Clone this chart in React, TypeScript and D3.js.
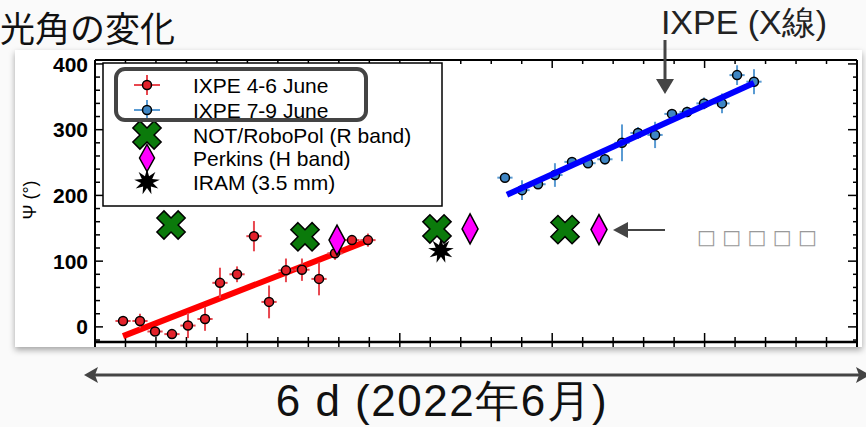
import React from 'react';
import * as d3 from 'd3';

// IXPE 4-6 June (time in days from axis start, angle in deg, 1-sigma error in deg)
const redT = [0.184, 0.295, 0.394, 0.505, 0.61, 0.722, 0.82, 0.932, 1.043, 1.142, 1.253, 1.358, 1.47, 1.575, 1.686, 1.791];
const redPsi = [9, 9, -7, -11, 2, 12, 67, 80, 138, 38, 86, 87, 73, 112, 132, 132];
const redErr = [5, 11, 6, 6, 19, 18, 23, 12, 23, 25, 18, 17, 25, 10, 5, 10];

// IXPE 7-9 June
const blueT = [2.69, 2.802, 2.907, 3.018, 3.13, 3.235, 3.346, 3.458, 3.563, 3.675, 3.786, 3.885, 3.996, 4.114, 4.213, 4.324];
const bluePsi = [227, 208, 217, 231, 251, 249, 255, 280, 295, 292, 324, 327, 340, 340, 383, 373];
const blueErr = [3, 15, 5, 18, 6, 6, 8, 28, 9, 20, 6, 8, 9, 15, 15, 19];

const timeErr = 0.05;

// linear fits
const redFitT = [0.184, 1.791];
const redFitPsi = [-14, 131];
const blueFitT = [2.703, 4.324];
const blueFitPsi = [201, 371];

// optical / radio
const notT = [0.499, 1.378, 2.244, 3.084];
const notPsi = [155, 137, 149, 148];
const perkinsT = [1.588, 2.461, 3.307];
const perkinsPsi = [132, 149, 148];
const iramT = [2.27];
const iramPsi = [116];

const yTicks = [0, 100, 200, 300, 400];
const legendLabels = ['IXPE 4-6 June', 'IXPE 7-9 June', 'NOT/RoboPol (R band)', 'Perkins (H band)', 'IRAM (3.5 mm)'];

const W = 866, H = 427;
const left = 95, right = 857, top = 60, bottom = 342;

const x = d3.scaleLinear().domain([0, 5]).range([left, right]);
const y = d3.scaleLinear().domain([-23, 406]).range([bottom, top]);

const crossPath = d3.symbol(d3.symbolCross, 500)()!;
const diamond = (w: number, h: number) => `M0,${-h}L${w},0L0,${h}L${-w},0Z`;
const starPath = (() => {
  const pts: [number, number][] = [];
  const n = 9;
  for (let i = 0; i < n * 2; i++) {
    const r = i % 2 === 0 ? 13 : 6;
    const a = (Math.PI * i) / n - Math.PI / 2;
    pts.push([r * Math.cos(a), r * Math.sin(a)]);
  }
  return d3.line()(pts) + 'Z';
})();

const redFill = '#e3222b', redBar = '#e8474f';
const blueFill = '#3f86c4', blueBar = '#5a9bd3';
const green = '#0b7a0b', magenta = '#ff00ff';

function ErrPoint({ t, v, e, fill, bar }: any) {
  const cx = x(t), cy = y(v);
  return (
    <g>
      <line x1={x(t - timeErr)} x2={x(t + timeErr)} y1={cy} y2={cy} stroke={bar} strokeWidth={2} />
      <line x1={cx} x2={cx} y1={y(v - e)} y2={y(v + e)} stroke={bar} strokeWidth={2} />
      <circle cx={cx} cy={cy} r={4.5} fill={fill} stroke="#000" strokeWidth={1.5} />
    </g>
  );
}

export default function App() {
  const minorX = d3.range(0, 26).map((i) => i / 5);
  const minorY = d3.range(-20, 407, 20);
  const fitLine = d3.line<number>();

  const legendRows = [85, 110, 135, 158, 182];
  const lx = 147;

  return (
    <svg width={W} height={H} style={{ position: 'absolute', left: 0, top: 0, background: '#fafafa' }}>
      <defs>
        <filter id="shadow" x="-5%" y="-5%" width="110%" height="120%">
          <feDropShadow dx="0" dy="3" stdDeviation="3" floodColor="#000" floodOpacity="0.35" />
        </filter>
        <clipPath id="panel">
          <rect x={15} y={50} width={847} height={297} />
        </clipPath>
      </defs>

      {/* title */}
      <text x={0} y={42} fontFamily="Noto Sans CJK JP" fontSize={35} fill="#111">光角の変化</text>
      <text x={744} y={34} textAnchor="middle" fontFamily="Liberation Sans" fontSize={34} fill="#222">IXPE (X線)</text>

      {/* plot panel */}
      <rect x={15} y={50} width={847} height={297} fill="#fff" filter="url(#shadow)" />

      <g clipPath="url(#panel)">
        {/* frame */}
        <line x1={left} x2={right} y1={top} y2={top} stroke="#000" strokeWidth={2} />
        <line x1={left} x2={left} y1={top} y2={bottom + 10} stroke="#000" strokeWidth={2} />
        <line x1={right} x2={right} y1={top} y2={bottom + 10} stroke="#000" strokeWidth={2} />
        <line x1={left} x2={right} y1={bottom} y2={bottom} stroke="#000" strokeWidth={2.5} />

        {minorX.map((t, i) => {
          const major = i % 5 === 0;
          return (
            <g key={'xt' + i}>
              <line x1={x(t)} x2={x(t)} y1={top} y2={top + (major ? 8 : 4)} stroke="#000" strokeWidth={1.5} />
              <line x1={x(t)} x2={x(t)} y1={bottom - (major ? 9 : 5)} y2={bottom + 5} stroke="#000" strokeWidth={1.5} />
            </g>
          );
        })}
        {minorY.map((v) => {
          const major = v % 100 === 0;
          return (
            <g key={'yt' + v}>
              <line x1={left} x2={left + (major ? 8 : 5)} y1={y(v)} y2={y(v)} stroke="#000" strokeWidth={1.5} />
              <line x1={right} x2={right - (major ? 9 : 4)} y1={y(v)} y2={y(v)} stroke="#000" strokeWidth={1.5} />
            </g>
          );
        })}
        {yTicks.map((v) => (
          <text key={'yl' + v} x={88} y={y(v)} dy="0.36em" textAnchor="end" fontFamily="Liberation Sans" fontWeight="bold" fontSize={21} fill="#000">{v}</text>
        ))}
        <text transform="translate(36,200) rotate(-90)" textAnchor="middle" fontFamily="Liberation Sans" fontSize={18} fill="#000">Ψ (°)</text>

        {/* legend */}
        <rect x={103} y={63} width={339} height={143} fill="#fff" stroke="#000" strokeWidth={1.5} />
        <line x1={lx - 13} x2={lx + 13} y1={legendRows[0]} y2={legendRows[0]} stroke={redBar} strokeWidth={2} />
        <line x1={lx} x2={lx} y1={legendRows[0] - 10} y2={legendRows[0] + 10} stroke={redBar} strokeWidth={2} />
        <circle cx={lx} cy={legendRows[0]} r={4.5} fill={redFill} stroke="#000" strokeWidth={1.5} />
        <line x1={lx - 13} x2={lx + 13} y1={legendRows[1]} y2={legendRows[1]} stroke={blueBar} strokeWidth={2} />
        <line x1={lx} x2={lx} y1={legendRows[1] - 10} y2={legendRows[1] + 10} stroke={blueBar} strokeWidth={2} />
        <circle cx={lx} cy={legendRows[1]} r={4.5} fill={blueFill} stroke="#000" strokeWidth={1.5} />
        <path d={crossPath} transform={`translate(${lx},${legendRows[2]}) rotate(45)`} fill={green} stroke="#000" strokeWidth={1.5} />
        <path d={diamond(7.5, 13.5)} transform={`translate(${lx},${legendRows[3]})`} fill={magenta} stroke="#000" strokeWidth={1.5} />
        <path d={starPath} transform={`translate(${lx},${legendRows[4]})`} fill="#000" />
        {legendLabels.map((s, i) => (
          <text key={s} x={193} y={legendRows[i]} dy="0.36em" fontFamily="Liberation Sans" fontSize={21} fill="#000">{s}</text>
        ))}
        <rect x={116} y={69} width={250} height={51} rx={9} fill="none" stroke="#444" strokeWidth={4} />

        {/* fits */}
        <path d={fitLine(redFitT.map((t, i) => [x(t), y(redFitPsi[i])]) as any)!} stroke="#ff0000" strokeWidth={6} fill="none" />

        {/* data */}
        {redT.map((t, i) => (
          <ErrPoint key={'r' + i} t={t} v={redPsi[i]} e={redErr[i]} fill={redFill} bar={redBar} />
        ))}
        {blueT.map((t, i) => (
          <ErrPoint key={'b' + i} t={t} v={bluePsi[i]} e={blueErr[i]} fill={blueFill} bar={blueBar} />
        ))}
        <path d={fitLine(blueFitT.map((t, i) => [x(t), y(blueFitPsi[i])]) as any)!} stroke="#0000ff" strokeWidth={6} fill="none" />

        {iramT.map((t, i) => (
          <path key={'i' + i} d={starPath} transform={`translate(${x(t)},${y(iramPsi[i])})`} fill="#000" />
        ))}
        {notT.map((t, i) => (
          <path key={'n' + i} d={crossPath} transform={`translate(${x(t)},${y(notPsi[i])}) rotate(45)`} fill={green} stroke="#000" strokeWidth={1.5} />
        ))}
        {perkinsT.map((t, i) => (
          <path key={'p' + i} d={diamond(8, 15)} transform={`translate(${x(t)},${y(perkinsPsi[i])})`} fill={magenta} stroke="#000" strokeWidth={1.5} />
        ))}
      </g>

      {/* annotations */}
      <line x1={665} x2={665} y1={40} y2={80} stroke="#444" strokeWidth={3} />
      <path d="M656,79L674,79L665,94Z" fill="#444" />
      <line x1={625} x2={665} y1={230} y2={230} stroke="#444" strokeWidth={2} />
      <path d="M613,230L628,222L628,238Z" fill="#444" />
      <text x={697} y={237} dy="0.36em" textLength={120} lengthAdjust="spacing" fontFamily="DejaVu Sans" fontSize={20} fill="#999">□ □ □ □ □</text>

      <line x1={92} x2={866} y1={375} y2={375} stroke="#444" strokeWidth={3} />
      <path d="M84,375L98,367L95,375L98,383Z" fill="#444" />
      <path d="M870,375L856,367L859,375L856,383Z" fill="#444" />
      <text x={442} y={416} textAnchor="middle" fontFamily="Liberation Sans" fontSize={44} letterSpacing={1.5} fill="#111">6 d (2022年6月)</text>
    </svg>
  );
}
